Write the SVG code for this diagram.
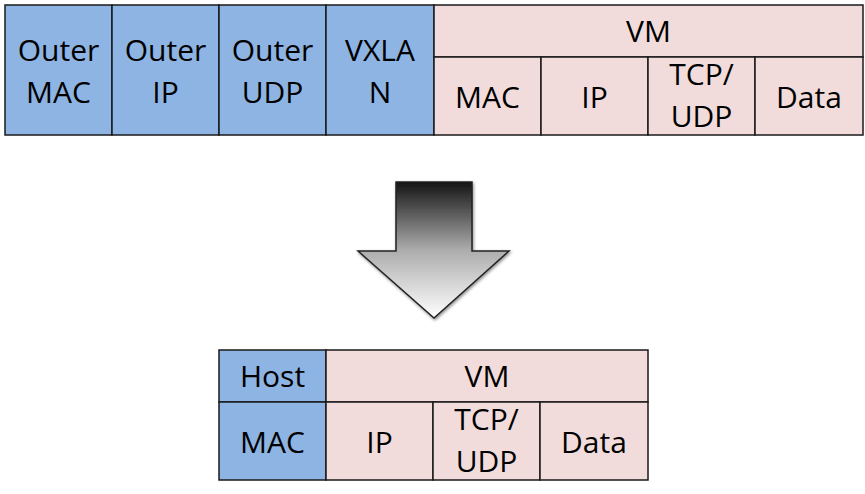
<svg xmlns="http://www.w3.org/2000/svg" width="865" height="494" viewBox="0 0 865 494">
<defs>
<style>
.b{fill:#8eb4e3;stroke:#1a1a1a;stroke-width:1.5}
.p{fill:#f2dcdb;stroke:#1a1a1a;stroke-width:1.5}
text{font-family:"Open Sans","Noto Sans",sans-serif;font-size:30px;fill:#000;text-anchor:middle}
</style>
<linearGradient id="g" x1="0" y1="182" x2="0" y2="318" gradientUnits="userSpaceOnUse">
<stop offset="0" stop-color="#151515"/>
<stop offset="0.5" stop-color="#acacac"/>
<stop offset="1" stop-color="#ffffff"/>
</linearGradient>
<filter id="sh" x="-20%" y="-20%" width="140%" height="140%">
<feDropShadow dx="1" dy="1.5" stdDeviation="1.5" flood-color="#000" flood-opacity="0.45"/>
</filter>
</defs>
<g id="top-table">
<g id="outer-mac"><rect class="b" x="5" y="5" width="107" height="130"/><text x="58.5" y="61">Outer</text><text x="58.5" y="103">MAC</text></g>
<g id="outer-ip"><rect class="b" x="112" y="5" width="107" height="130"/><text x="165.5" y="61">Outer</text><text x="165.5" y="103">IP</text></g>
<g id="outer-udp"><rect class="b" x="219" y="5" width="107" height="130"/><text x="272.5" y="61">Outer</text><text x="272.5" y="103">UDP</text></g>
<g id="vxlan"><rect class="b" x="326" y="5" width="108" height="130"/><text x="380" y="61">VXLA</text><text x="380" y="103">N</text></g>
<g id="vm-top"><rect class="p" x="434" y="5" width="429" height="52"/><text x="648.5" y="42">VM</text></g>
<g id="vm-mac"><rect class="p" x="434" y="57" width="107" height="78"/><text x="487.5" y="108">MAC</text></g>
<g id="vm-ip"><rect class="p" x="541" y="57" width="107" height="78"/><text x="594.5" y="108">IP</text></g>
<g id="vm-tcp"><rect class="p" x="648" y="57" width="107" height="78"/><text x="701.5" y="85">TCP/</text><text x="701.5" y="127">UDP</text></g>
<g id="vm-data"><rect class="p" x="755" y="57" width="108" height="78"/><text x="809" y="108">Data</text></g>
</g>
<g id="connectors">
<path d="M396,182 H472 V251 H509 L434,318 L358,251 H396 Z" fill="url(#g)" stroke="#222" stroke-width="1.5" stroke-linejoin="miter" filter="url(#sh)"/>
</g>
<g id="bottom-table">
<g id="host"><rect class="b" x="219" y="350" width="107" height="52"/><text x="272.5" y="387">Host</text></g>
<g id="host-mac"><rect class="b" x="219" y="402" width="107" height="78"/><text x="272.5" y="453">MAC</text></g>
<g id="vm-bottom"><rect class="p" x="326" y="350" width="322" height="52"/><text x="487" y="387">VM</text></g>
<g id="b-ip"><rect class="p" x="326" y="402" width="107" height="78"/><text x="379.5" y="453">IP</text></g>
<g id="b-tcp"><rect class="p" x="433" y="402" width="107" height="78"/><text x="486.5" y="430">TCP/</text><text x="486.5" y="472">UDP</text></g>
<g id="b-data"><rect class="p" x="540" y="402" width="108" height="78"/><text x="594" y="453">Data</text></g>
</g>
</svg>
